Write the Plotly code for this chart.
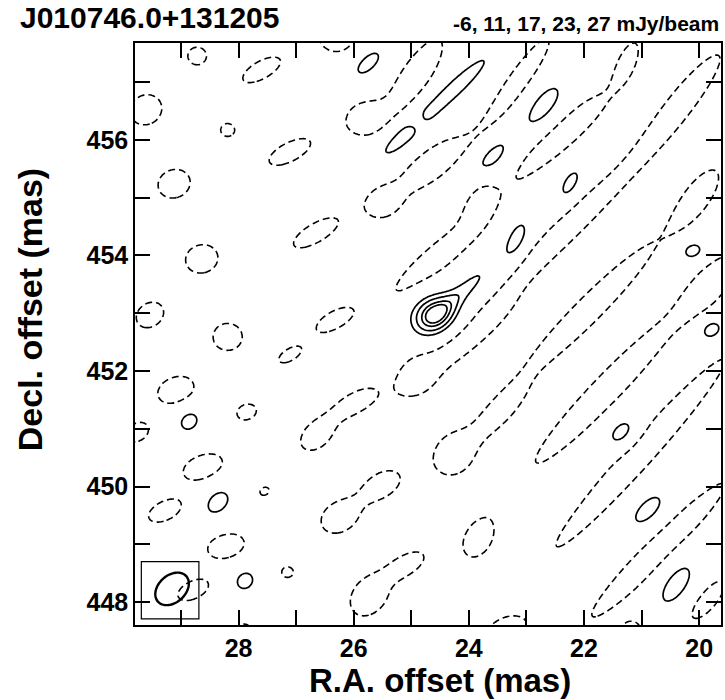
import numpy as np
import plotly.graph_objects as go

# ---- image model: Gaussian components (R.A. mas, Decl. mas, mJy/beam, sigma major, sigma minor, angle deg)
comp_ra = [28.72, 27.60, 29.61, 28.19, 27.11, 29.12, 26.30, 25.85, 24.93, 25.51,
           24.66, 23.13, 26.66, 24.55, 23.83, 24.17, 24.90, 25.99, 26.65, 26.35,
           28.64, 29.54, 28.19, 27.11, 29.09, 27.86, 29.76, 28.62, 27.55, 29.28,
           28.22, 27.15, 28.79, 26.25, 25.51, 25.07, 25.73, 24.26, 23.48, 23.83,
           21.92, 21.60, 21.02, 20.71, 19.85, 21.16, 23.31, 27.91, 19.81, 22.37,
           20.28, 22.32, 20.02, 21.25, 24.90,
           25.75, 24.26, 25.22, 23.64, 23.17, 24.61, 24.02, 28.86, 28.36, 27.89,
           22.69, 22.24, 20.11, 19.78, 21.35, 20.89, 20.40]
comp_dec = [457.45, 457.21, 456.52, 456.17, 455.79, 455.24, 457.81, 456.38, 457.10, 454.91,
            455.56, 457.03, 454.39, 453.96, 455.04, 452.45, 451.93, 451.45, 450.88, 452.88,
            453.94, 452.97, 452.59, 452.28, 451.67, 451.29, 450.94, 450.34, 449.92, 449.58,
            448.97, 448.52, 448.21, 449.47, 450.03, 448.66, 448.11, 450.55, 451.26, 449.08,
            453.06, 451.69, 450.58, 448.90, 448.04, 447.55, 447.55, 447.52, 453.49, 456.10,
            456.69, 454.44, 455.04, 457.38, 456.31,
            457.33, 456.88, 455.99, 455.65, 454.30, 452.97, 453.45, 451.13, 449.73, 448.37,
            456.60, 455.25, 454.08, 452.71, 450.94, 449.60, 448.31]
comp_flux = [-10, -10, -10, -10, -10, -10, -10, -10, -10, -10,
             -10, -10, -10, -10, -10, -10, -10, -10, -10, -10,
             -10, -10, -10, -10, -10, -10, -10, -10, -7, -10,
             -10, -10, -10, -10, -10, -10, -10, -10, -10, -10,
             -10, -10, -10, -10, -10, -10, -10, -10, -10, -10,
             -10, -10, -10, -10, -8,
             15.5, 16, 12, 15.5, 15.5, 28, 13, 15.5, 15.5, 15.5,
             15.5, 15.5, 15.5, 15.5, 15.5, 15.5, 15.5]
comp_major = [0.16, 0.36, 0.28, 0.12, 0.39, 0.28, 0.30, 0.28, 0.75, 0.24,
              0.66, 0.87, 0.43, 0.95, 0.35, 0.95, 0.25, 0.38, 0.30, 0.33,
              0.28, 0.25, 0.25, 0.21, 0.32, 0.17, 0.20, 0.35, 0.15, 0.30,
              0.32, 0.10, 0.28, 0.33, 0.33, 0.30, 0.38, 0.35, 0.45, 0.30,
              1.55, 1.75, 2.15, 1.60, 0.40, 0.15, 0.30, 0.12, 0.45, 1.00,
              0.97, 1.38, 0.45, 0.30, 0.12,
              0.28, 0.82, 0.45, 0.42, 0.29, 0.30, 0.52, 0.18, 0.24, 0.17,
              0.42, 0.24, 0.16, 0.18, 0.24, 0.33, 0.41]
comp_minor = [0.15, 0.15, 0.25, 0.11, 0.16, 0.24, 0.28, 0.23, 0.24, 0.20,
              0.24, 0.17, 0.16, 0.21, 0.17, 0.19, 0.22, 0.16, 0.20, 0.14,
              0.24, 0.20, 0.23, 0.10, 0.22, 0.13, 0.15, 0.20, 0.12, 0.16,
              0.20, 0.09, 0.15, 0.25, 0.20, 0.15, 0.28, 0.30, 0.15, 0.20,
              0.22, 0.24, 0.23, 0.22, 0.15, 0.12, 0.15, 0.10, 0.20, 0.22,
              0.20, 0.20, 0.18, 0.12, 0.12,
              0.135, 0.14, 0.14, 0.19, 0.125, 0.25, 0.14, 0.15, 0.17, 0.15,
              0.18, 0.11, 0.12, 0.14, 0.15, 0.16, 0.19]
comp_angle = [0, 29, 30, 0, 27, 20, 0, 30, 56, 25,
              38, 55, 30, 40, 70, 38, 60, 30, 40, 30,
              15, 35, 0, 30, 20, 20, 30, 20, 30, 25,
              15, 0, 25, 30, 30, 30, 50, 50, 45, 60,
              45, 46, 48, 45, 50, 0, 20, 0, 50, 41,
              51, 44, 55, 65, 0,
              43, 43, 42, 50, 65, 25, 42, 45, 45, 45,
              52, 60, 20, 30, 45, 45, 55]

neg_levels = [-6]
pos_levels = [11, 17, 23, 27]

# beam (mas) and its box
beam_ra, beam_dec = 29.156, 448.23
beam_major, beam_minor, beam_angle = 0.33, 0.235, 42
box_ra = [29.69, 28.69]
box_dec = [447.71, 448.70]

x_tickvals = [20, 21, 22, 23, 24, 25, 26, 27, 28, 29]
x_ticktext = ["20", "", "22", "", "24", "", "26", "", "28", ""]
y_tickvals = [448, 449, 450, 451, 452, 453, 454, 455, 456, 457]
y_ticktext = ["448", "", "450", "", "452", "", "454", "", "456", ""]

x_range = [29.80, 19.62]
y_range = [447.605, 457.675]

# ---- evaluate the model on a grid
ra = np.arange(19.40, 30.00, 0.025)
dec = np.arange(447.30, 458.00, 0.025)
RA, DEC = np.meshgrid(ra, dec)
img = np.zeros_like(RA)
for x0, y0, a, sa, sb, th in zip(comp_ra, comp_dec, comp_flux, comp_major, comp_minor, comp_angle):
    u = -(RA - x0)
    v = DEC - y0
    t = np.radians(th)
    p = u * np.cos(t) + v * np.sin(t)
    q = -u * np.sin(t) + v * np.cos(t)
    img += a * np.exp(-0.5 * ((p / sa) ** 2 + (q / sb) ** 2))
img = np.round(img, 2)

fig = go.Figure()
fig.add_trace(go.Contour(
    x=ra, y=dec, z=img, autocontour=False,
    contours=dict(start=neg_levels[0], end=neg_levels[0], size=1, coloring="none"),
    line=dict(color="black", width=1.6, dash="7px,4px", smoothing=1),
    showscale=False, hoverinfo="skip"))
for lev in pos_levels:
    fig.add_trace(go.Contour(
        x=ra, y=dec, z=img, autocontour=False,
        contours=dict(start=lev, end=lev, size=1, coloring="none"),
        line=dict(color="black", width=1.7, smoothing=1),
        showscale=False, hoverinfo="skip"))

# beam ellipse
tt = np.linspace(0, 2 * np.pi, 73)
th = np.radians(beam_angle)
pu = beam_major * np.cos(tt)
pv = beam_minor * np.sin(tt)
ex = beam_ra - (pu * np.cos(th) - pv * np.sin(th))
ey = beam_dec + (pu * np.sin(th) + pv * np.cos(th))
path = "M " + " L ".join(f"{a:.4f},{b:.4f}" for a, b in zip(ex, ey)) + " Z"
fig.add_shape(type="path", path=path, xref="x", yref="y", line=dict(color="black", width=2.4))
fig.add_shape(type="rect", x0=box_ra[0], x1=box_ra[1], y0=box_dec[0], y1=box_dec[1],
              xref="x", yref="y", line=dict(color="black", width=1.2))

font_family = "Liberation Sans, Arial, Helvetica, sans-serif"
axis_common = dict(ticks="inside", ticklen=15, tickwidth=1.5, tickcolor="black",
                   showline=True, linecolor="black", linewidth=1.5, mirror="ticks",
                   showgrid=False, zeroline=False,
                   tickfont=dict(size=25, family=font_family, color="black", weight="bold"))
fig.update_xaxes(range=x_range, tickmode="array", tickvals=x_tickvals, ticktext=x_ticktext, **axis_common)
fig.update_yaxes(range=y_range, tickmode="array", tickvals=y_tickvals, ticktext=y_ticktext, **axis_common)

fig.update_layout(
    width=725, height=700,
    margin=dict(l=135, r=2, t=43, b=75),
    paper_bgcolor="white", plot_bgcolor="white",
    showlegend=False,
    font=dict(family=font_family, color="black"),
    annotations=[
        dict(text="J010746.0+131205", xref="paper", yref="paper", x=-0.199, y=1.043,
             xanchor="left", yanchor="middle", showarrow=False,
             font=dict(size=30, family=font_family, weight="bold")),
        dict(text="-6, 11, 17, 23, 27 mJy/beam", xref="paper", yref="paper", x=1.0, y=1.034,
             xanchor="right", yanchor="middle", showarrow=False,
             font=dict(size=21, family=font_family, weight="bold")),
        dict(text="R.A. offset (mas)", xref="paper", yref="paper", x=0.52, y=-0.096,
             xanchor="center", yanchor="middle", showarrow=False,
             font=dict(size=33, family=font_family, weight="bold")),
        dict(text="Decl. offset (mas)", xref="paper", yref="paper", x=-0.179, y=0.541,
             xanchor="center", yanchor="middle", showarrow=False, textangle=-90,
             font=dict(size=34, family=font_family, weight="bold")),
    ],
)
# remove the default page margin so the 725x700 figure fills the window exactly
fig.write_html("out.html", config={"displayModeBar": False},
               post_script="document.body.style.margin='0';document.body.style.overflow='hidden';")
